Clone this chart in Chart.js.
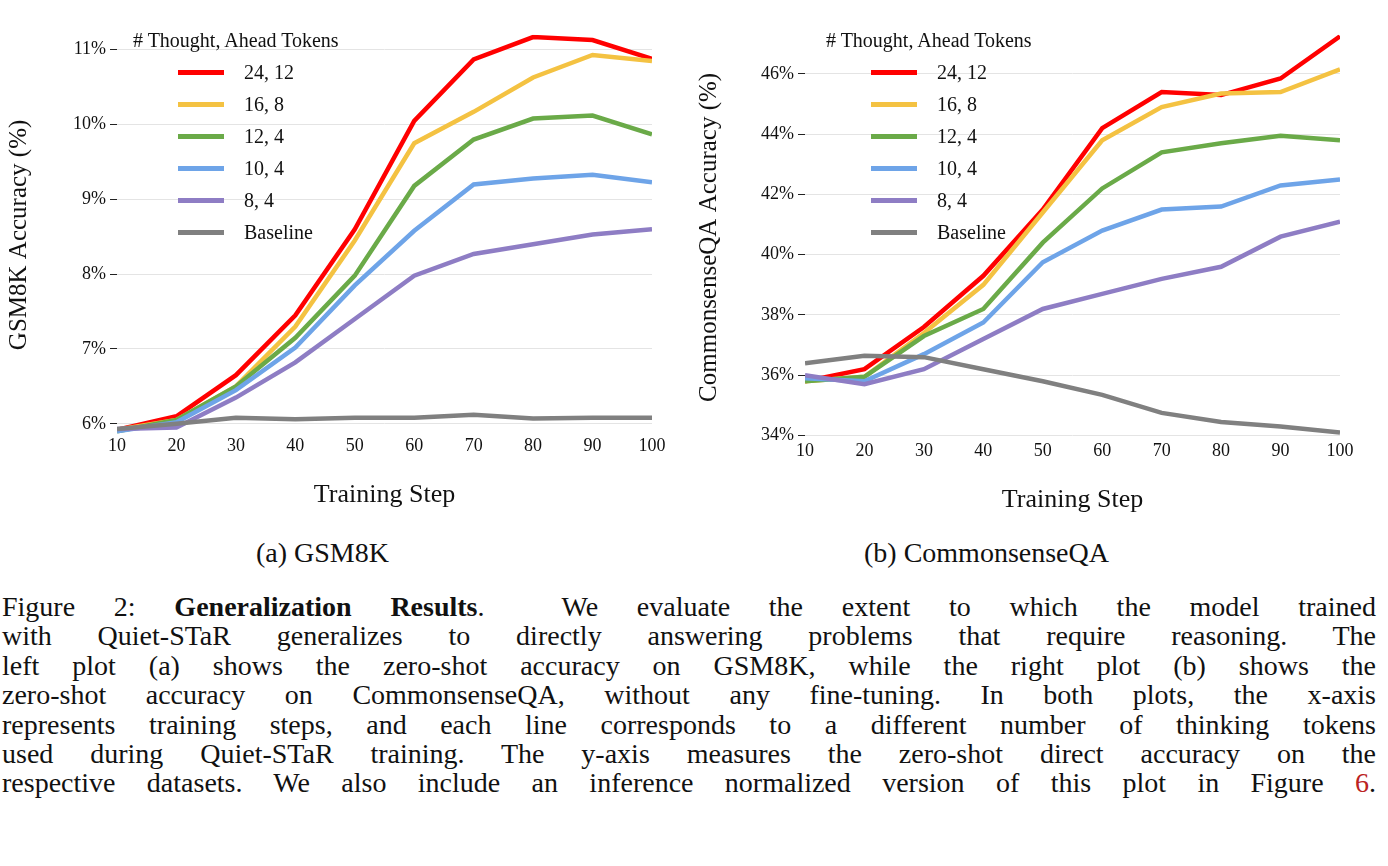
<!DOCTYPE html>
<html><head><meta charset="utf-8">
<script src="https://cdn.jsdelivr.net/npm/chart.js@4"></script>
<style>
body{margin:0;background:#fff;width:1388px;height:866px;overflow:hidden;position:relative;font-family:"Liberation Serif",serif;color:#111}
.cv{position:absolute}
.leg{position:absolute;font-size:20px;line-height:32px}
.leg .r{display:flex;align-items:center;margin-left:45px}
.leg .r span{display:inline-block;width:46px;height:5px;margin-right:20px}
.sub{position:absolute;font-size:28px;top:537px}
.cap{position:absolute;left:2px;top:592px;width:1374px;font-size:28px;line-height:29.4px}
.cap div{text-align:justify;text-align-last:justify;white-space:nowrap;overflow:visible}
.cap div.last{text-align-last:justify}
</style></head><body>
<div class="cv" style="left:0;top:20px;width:670px;height:495px"><canvas id="c1"></canvas></div>
<div class="cv" style="left:690px;top:20px;width:668px;height:500px"><canvas id="c2"></canvas></div>
<div class="leg" style="left:133px;top:24px" id="l1"></div>
<div class="leg" style="left:826px;top:24px" id="l2"></div>
<div class="sub" style="left:256px">(a) GSM8K</div>
<div class="sub" style="left:864px">(b) CommonsenseQA</div>
<div class="cap" id="cap"></div>
<script>
const steps=[10,20,30,40,50,60,70,80,90,100];
const labels=["24, 12","16, 8","12, 4","10, 4","8, 4","Baseline"];
const colors=["#ff0000","#f4c242","#6aaa48","#6ea4e8","#8e7dc4","#808080"];
const gsm_24_12=[5.92,6.1,6.65,7.45,8.6,10.05,10.87,11.17,11.13,10.88];
const gsm_16_8=[5.92,6.05,6.5,7.3,8.45,9.75,10.17,10.63,10.93,10.85];
const gsm_12_4=[5.9,6.05,6.5,7.15,7.98,9.18,9.8,10.08,10.12,9.87];
const gsm_10_4=[5.9,6.02,6.45,7.02,7.85,8.58,9.2,9.28,9.33,9.23];
const gsm_8_4=[5.93,5.95,6.35,6.82,7.4,7.98,8.27,8.4,8.53,8.6];
const gsm_base=[5.93,6.0,6.08,6.06,6.08,6.08,6.12,6.07,6.08,6.08];
const csqa_24_12=[35.8,36.2,37.6,39.3,41.5,44.2,45.4,45.3,45.85,47.25];
const csqa_16_8=[35.8,35.95,37.4,39.0,41.4,43.8,44.9,45.35,45.4,46.15];
const csqa_12_4=[35.8,35.95,37.3,38.2,40.4,42.2,43.4,43.7,43.95,43.8];
const csqa_10_4=[35.9,35.8,36.7,37.75,39.75,40.8,41.5,41.6,42.3,42.5];
const csqa_8_4=[36.0,35.7,36.2,37.2,38.2,38.7,39.2,39.6,40.6,41.1];
const csqa_base=[36.4,36.65,36.6,36.2,35.8,35.35,34.75,34.45,34.3,34.1];
const captionLines=[
 'Figure 2: <b>Generalization Results</b>.&nbsp; We evaluate the extent to which the model trained',
 'with Quiet-STaR generalizes to directly answering problems that require reasoning. The',
 'left plot (a) shows the zero-shot accuracy on GSM8K, while the right plot (b) shows the',
 'zero-shot accuracy on CommonsenseQA, without any fine-tuning. In both plots, the x-axis',
 'represents training steps, and each line corresponds to a different number of thinking tokens',
 'used during Quiet-STaR training. The y-axis measures the zero-shot direct accuracy on the',
 'respective datasets. We also include an inference normalized version of this plot in Figure <span style="color:#b22">6</span>.'];
document.getElementById('cap').innerHTML=captionLines.map(l=>`<div style="white-space:normal">${l}</div>`).join('');

function legend(id){
  let h='<div># Thought, Ahead Tokens</div>';
  labels.forEach((l,i)=>h+=`<div class="r"><span style="background:${colors[i]}"></span>${l}</div>`);
  document.getElementById(id).innerHTML=h;
}
legend('l1');legend('l2');
const F="'Liberation Serif', serif";
function make(id,series,min,max,step,ytitle,yw,padTop){
  const ds=series.map((d,i)=>({label:labels[i],data:d,borderColor:colors[i],borderWidth:4.5,pointRadius:0,tension:0,fill:false})).reverse();
  new Chart(document.getElementById(id),{type:'line',data:{labels:steps,datasets:ds},
  options:{responsive:true,maintainAspectRatio:false,animation:false,
   layout:{padding:{top:padTop,right:18,left:0,bottom:0}},
   plugins:{legend:{display:false},tooltip:{enabled:false}},
   scales:{
    x:{type:'linear',min:10,max:100,afterFit:s=>{s.height=80},
      afterBuildTicks:s=>{s.ticks=steps.map(v=>({value:v}))},
      grid:{display:false,tickLength:0},border:{display:false},
      ticks:{color:'#111',font:{family:F,size:18},padding:0,maxRotation:0},
      title:{display:true,text:'Training Step',color:'#111',font:{family:F,size:26},padding:{top:24}}},
    y:{min:min,max:max,afterFit:s=>{s.width=yw},
      afterBuildTicks:s=>{const t=[];for(let v=Math.ceil(min/step)*step;v<=max+1e-9;v+=step)t.push({value:v});s.ticks=t},
      grid:{color:'#e4e4e4',lineWidth:1,tickColor:'#222',tickLength:7},border:{display:false},
      ticks:{color:'#111',font:{family:F,size:18},padding:4,callback:v=>Math.round(v)+'%'},
      title:{display:true,text:ytitle,color:'#111',font:{family:F,size:25},padding:{bottom:4}}}
   }}});
}
make('c1',[gsm_24_12,gsm_16_8,gsm_12_4,gsm_10_4,gsm_8_4,gsm_base],5.85,11.2,1,'GSM8K Accuracy (%)',117,12);
make('c2',[csqa_24_12,csqa_16_8,csqa_12_4,csqa_10_4,csqa_8_4,csqa_base],33.85,47.3,2,'CommonsenseQA Accuracy (%)',115,14);
</script></body></html>
